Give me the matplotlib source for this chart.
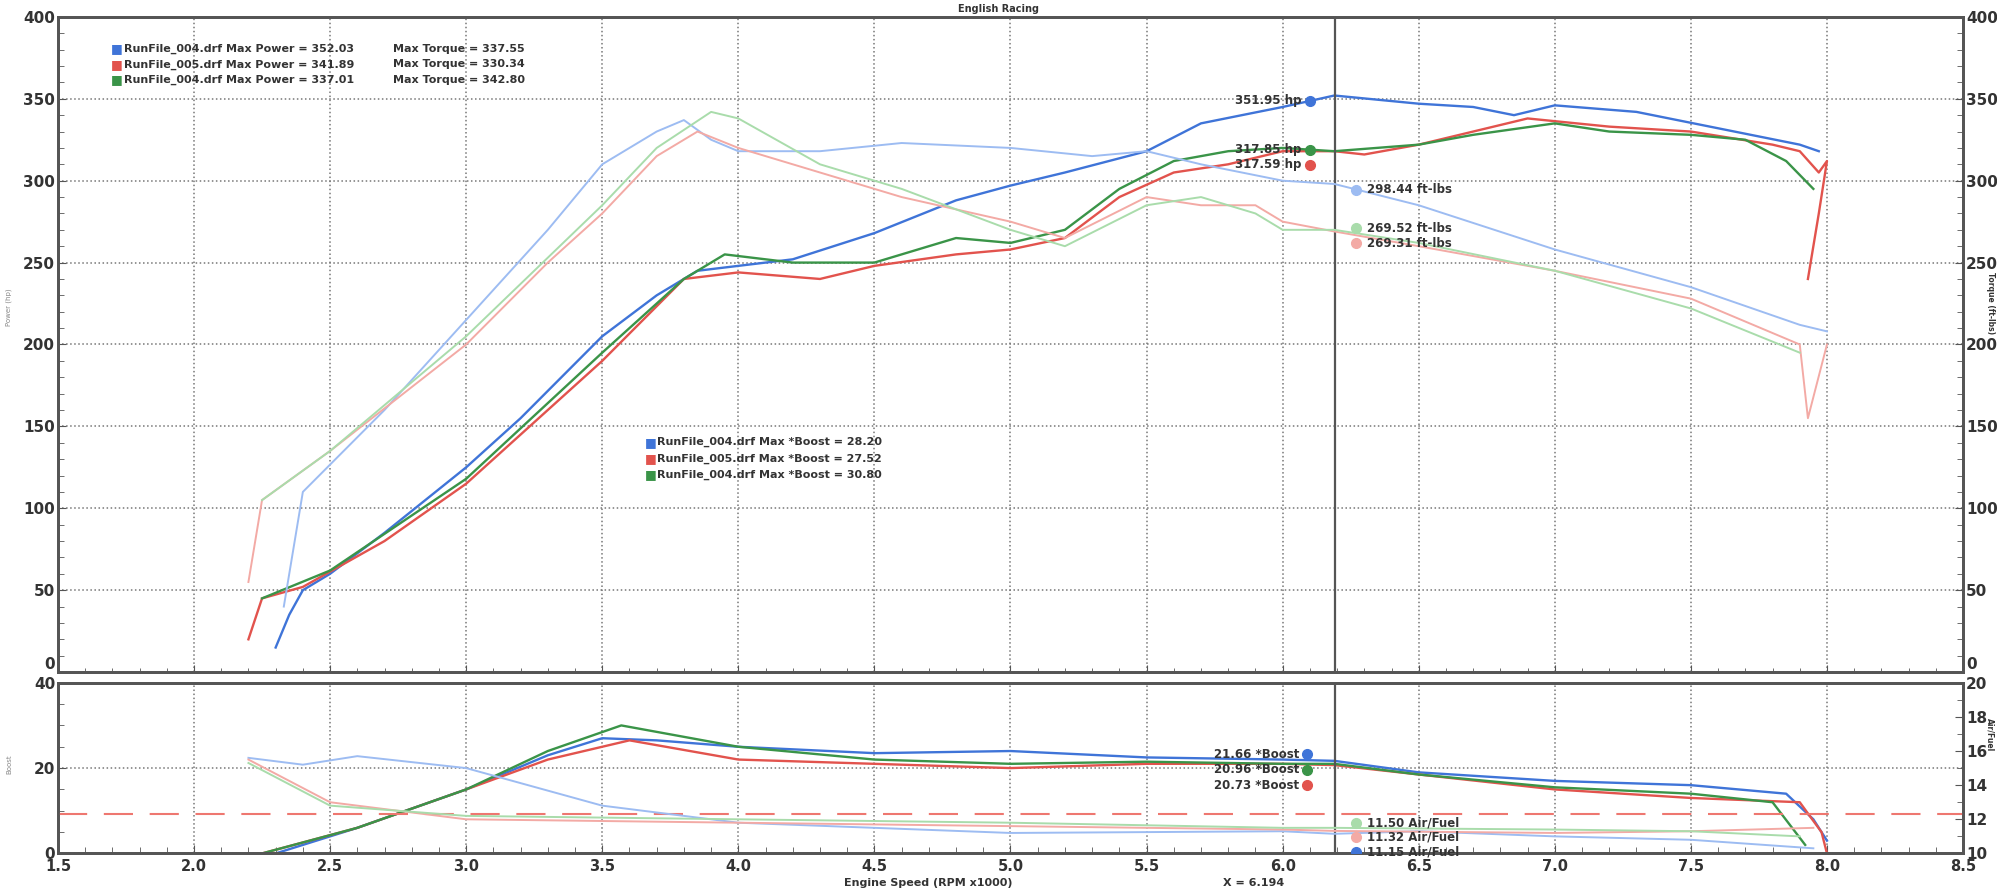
import numpy as np
import matplotlib
matplotlib.use('Agg')
import matplotlib.pyplot as plt
from matplotlib.ticker import MultipleLocator

# ---- data ----
rpm_pwr_blue = [2.3, 2.35, 2.4, 2.5, 2.7, 3.0, 3.2, 3.5, 3.7, 3.85, 4.0, 4.2, 4.5, 4.8, 5.0, 5.2, 5.5, 5.7, 6.0, 6.19, 6.5, 6.7, 6.85, 7.0, 7.3, 7.6, 7.9, 7.97]
pwr_blue = [15, 35, 50, 60, 85, 125, 155, 205, 230, 245, 248, 252, 268, 288, 297, 305, 318, 335, 345, 352, 347, 345, 340, 346, 342, 332, 322, 318]

rpm_pwr_red = [2.2, 2.25, 2.4, 2.7, 3.0, 3.3, 3.5, 3.8, 4.0, 4.3, 4.5, 4.8, 5.0, 5.2, 5.4, 5.6, 5.8, 6.0, 6.19, 6.3, 6.5, 6.7, 6.9, 7.2, 7.5, 7.8, 7.9, 7.97, 8.0, 7.97, 7.93]
pwr_red = [20, 45, 52, 80, 115, 160, 190, 240, 244, 240, 248, 255, 258, 265, 290, 305, 310, 318, 318, 316, 322, 330, 338, 333, 330, 322, 318, 305, 312, 280, 240]

rpm_pwr_green = [2.25, 2.5, 3.0, 3.5, 3.8, 3.95, 4.2, 4.5, 4.8, 5.0, 5.2, 5.4, 5.6, 5.8, 6.0, 6.19, 6.5, 6.7, 7.0, 7.2, 7.5, 7.7, 7.85, 7.95]
pwr_green = [45, 62, 118, 195, 240, 255, 250, 250, 265, 262, 270, 295, 312, 318, 320, 318, 322, 328, 335, 330, 328, 325, 312, 295]

rpm_trq_blue = [2.33, 2.4, 2.7, 3.0, 3.3, 3.5, 3.7, 3.8, 3.9, 4.0, 4.3, 4.6, 5.0, 5.3, 5.5, 5.7, 6.0, 6.19, 6.5, 7.0, 7.5, 7.9, 8.0]
trq_blue = [40, 110, 160, 215, 270, 310, 330, 337, 325, 318, 318, 323, 320, 315, 318, 310, 300, 298, 285, 258, 235, 212, 208]

rpm_trq_red = [2.2, 2.25, 2.5, 3.0, 3.3, 3.5, 3.7, 3.85, 4.0, 4.3, 4.6, 5.0, 5.2, 5.5, 5.7, 5.9, 6.0, 6.19, 6.5, 7.0, 7.5, 7.9, 7.93, 8.0]
trq_red = [55, 105, 135, 200, 250, 280, 315, 330, 320, 305, 290, 275, 265, 290, 285, 285, 275, 269, 260, 245, 228, 200, 155, 200]

rpm_trq_green = [2.25, 2.5, 3.0, 3.5, 3.7, 3.9, 4.0, 4.3, 4.6, 5.0, 5.2, 5.5, 5.7, 5.9, 6.0, 6.19, 6.5, 7.0, 7.5, 7.9]
trq_green = [105, 135, 205, 285, 320, 342, 338, 310, 295, 270, 260, 285, 290, 280, 270, 270, 262, 245, 222, 195]

rpm_boost_blue = [2.3, 2.6, 3.0, 3.3, 3.5, 3.7, 4.0, 4.5, 5.0, 5.5, 6.0, 6.19, 6.5, 7.0, 7.5, 7.85, 7.95, 8.0]
boost_blue = [0, 6, 15, 23, 27, 26.5, 25, 23.5, 24, 22.5, 22, 21.7, 19, 17, 16, 14, 8, 3]
rpm_boost_red = [2.25, 2.6, 3.0, 3.3, 3.6, 4.0, 4.5, 5.0, 5.5, 6.0, 6.19, 6.5, 7.0, 7.5, 7.9, 7.98, 8.0]
boost_red = [0, 6, 15, 22, 26.5, 22, 21, 20, 21, 21, 20.7, 18.5, 15, 13, 12, 5, 0]
rpm_boost_green = [2.25, 2.6, 3.0, 3.3, 3.57, 4.0, 4.5, 5.0, 5.5, 6.0, 6.19, 6.5, 7.0, 7.5, 7.8, 7.92]
boost_green = [0, 6, 15, 24, 30, 25, 22, 21, 21.5, 21, 21, 18.5, 15.5, 14, 12, 2]

rpm_afr_blue = [2.2, 2.4, 2.6, 3.0, 3.5, 4.0, 5.0, 6.0, 6.19, 6.5, 7.0, 7.5, 7.95]
afr_blue = [15.6, 15.2, 15.7, 15.0, 12.8, 11.8, 11.2, 11.3, 11.15, 11.3, 11.0, 10.8, 10.3]
rpm_afr_red = [2.2, 2.5, 3.0, 4.0, 5.0, 6.0, 6.19, 7.0, 7.5, 7.95]
afr_red = [15.5, 13.0, 12.0, 11.8, 11.6, 11.4, 11.32, 11.2, 11.3, 11.5]
rpm_afr_green = [2.2, 2.5, 3.0, 4.0, 5.0, 6.0, 6.19, 7.0, 7.5, 7.9]
afr_green = [15.3, 12.8, 12.2, 12.0, 11.8, 11.5, 11.5, 11.4, 11.3, 11.0]

afr_target = 12.3
cursor_rpm = 6.194

run_names = ['RunFile_004.drf', 'RunFile_005.drf', 'RunFile_004.drf']
max_power = [352.03, 341.89, 337.01]
max_torque = [337.55, 330.34, 342.80]
max_boost = [28.20, 27.52, 30.80]
cur_power = [351.95, 317.85, 317.59]   # listed top to bottom as on the sheet
cur_torque = [298.44, 269.52, 269.31]
cur_boost = [21.66, 20.96, 20.73]
cur_afr = [11.50, 11.32, 11.15]

dark = ['#3f74d8', '#e2534d', '#3a9448']
light = ['#9dbcf2', '#f3aaa5', '#a9dcab']
txt = '#333333'
frame = '#555555'

# ---- figure ----
fig = plt.figure(figsize=(19.97, 8.89), dpi=100)
ax = fig.add_axes([0.029, 0.244, 0.954, 0.737])
axb = fig.add_axes([0.029, 0.040, 0.954, 0.192])
ax2 = ax.twinx()
axb2 = axb.twinx()

for a in (ax, axb, ax2, axb2):
    a.set_xlim(1.5, 8.5)
    for s in a.spines.values():
        s.set_color(frame)
        s.set_linewidth(2)

ax.set_ylim(0, 400)
ax2.set_ylim(0, 400)
axb.set_ylim(0, 40)
axb2.set_ylim(10, 20)

for a in (ax, axb):
    a.xaxis.set_major_locator(MultipleLocator(0.5))
    a.xaxis.set_minor_locator(MultipleLocator(0.1))
    a.grid(True, which='major', color='#777777', linestyle=':', linewidth=1.1)
ax.yaxis.set_major_locator(MultipleLocator(50))
ax.yaxis.set_minor_locator(MultipleLocator(10))
ax2.yaxis.set_major_locator(MultipleLocator(50))
ax2.yaxis.set_minor_locator(MultipleLocator(10))
axb.yaxis.set_major_locator(MultipleLocator(20))
axb.yaxis.set_minor_locator(MultipleLocator(5))
axb2.yaxis.set_major_locator(MultipleLocator(2))
axb2.yaxis.set_minor_locator(MultipleLocator(1))

ax.tick_params(axis='x', labelbottom=False, direction='in', length=5, color=frame)
ax.tick_params(axis='x', which='minor', direction='in', length=3, color=frame)
axb.tick_params(axis='x', direction='in', length=6, color=frame, labelsize=10.5, labelcolor=txt, pad=4)
axb.tick_params(axis='x', which='minor', direction='in', length=4, color=frame)
for a in (ax, ax2, axb, axb2):
    a.tick_params(axis='y', which='major', direction='in', length=6, color=frame, labelsize=11, labelcolor=txt, pad=2)
    a.tick_params(axis='y', which='minor', direction='in', length=4, color=frame)
ax.set_yticks(np.arange(0, 401, 50))
ax2.set_yticks(np.arange(0, 401, 50))
axb.set_xticks(np.arange(1.5, 8.51, 0.5))
axb.set_xticklabels([f'{v:.1f}' for v in np.arange(1.5, 8.51, 0.5)])
for lab in ax.get_yticklabels() + ax2.get_yticklabels() + axb.get_yticklabels() + axb2.get_yticklabels() + axb.get_xticklabels():
    lab.set_fontweight('bold')
# the "0" of the upper panel sits a little higher than the "40"/"20" below it
ax.get_yticklabels()[0].set_verticalalignment('bottom')
ax2.get_yticklabels()[0].set_verticalalignment('bottom')

# torque (lighter) then power
trq_sets = [(rpm_trq_blue, trq_blue), (rpm_trq_red, trq_red), (rpm_trq_green, trq_green)]
pwr_sets = [(rpm_pwr_blue, pwr_blue), (rpm_pwr_red, pwr_red), (rpm_pwr_green, pwr_green)]
for i, (x, y) in enumerate(trq_sets):
    ax2.plot(x, y, color=light[i], lw=1.4)
for i, (x, y) in enumerate(pwr_sets):
    ax.plot(x, y, color=dark[i], lw=1.7)

boost_sets = [(rpm_boost_blue, boost_blue), (rpm_boost_red, boost_red), (rpm_boost_green, boost_green)]
afr_sets = [(rpm_afr_blue, afr_blue), (rpm_afr_red, afr_red), (rpm_afr_green, afr_green)]
axb2.axhline(afr_target, color='#ee7770', lw=1.5, dashes=(14, 8))
for i, (x, y) in enumerate(afr_sets):
    axb2.plot(x, y, color=light[i], lw=1.4)
for i, (x, y) in enumerate(boost_sets):
    axb.plot(x, y, color=dark[i], lw=1.7)

for a in (ax, axb):
    a.axvline(cursor_rpm, color='#555555', lw=1.6, zorder=5)

# cursor readouts (stacked like the sheet)
bold = dict(fontsize=8.5, fontweight='bold', color=txt)
p_cols = [dark[0], dark[2], dark[1]]
p_offs = [-3, 1, -8]
for v, c, dy in zip(cur_power, p_cols, p_offs):
    ax.plot([6.10], [v + dy], 'o', color=c, ms=7, zorder=6)
    ax.text(6.07, v + dy, f'{v:.2f} hp', ha='right', va='center', **bold)
t_cols = [light[0], light[2], light[1]]
t_offs = [-4, 1.5, -7.5]
for v, c, dy in zip(cur_torque, t_cols, t_offs):
    ax2.plot([6.27], [v + dy], 'o', color=c, ms=7, zorder=6)
    ax2.text(6.31, v + dy, f'{v:.2f} ft-lbs', ha='left', va='center', **bold)
b_cols = [dark[0], dark[2], dark[1]]
b_offs = [1.6, -1.3, -4.7]
for v, c, dy in zip(cur_boost, b_cols, b_offs):
    axb.plot([6.09], [v + dy], 'o', color=c, ms=7, zorder=6)
    axb.text(6.06, v + dy, f'{v:.2f} *Boost', ha='right', va='center', **bold)
a_cols = [light[2], light[1], dark[0]]
a_offs = [0.3, -0.37, -1.05]
for v, c, dy in zip(cur_afr, a_cols, a_offs):
    axb2.plot([6.27], [v + dy], 'o', color=c, ms=7, zorder=6)
    axb2.text(6.31, v + dy, f'{v:.2f} Air/Fuel', ha='left', va='center', **bold)

# legend blocks
leg = dict(fontsize=8, fontweight='bold', color=txt, transform=ax.transAxes, va='center')
for i in range(3):
    y = 0.951 - i * 0.0235
    ax.text(0.028, y, '\u25a0', color=dark[i], fontsize=9, transform=ax.transAxes, va='center')
    ax.text(0.0345, y, f'{run_names[i]} Max Power = {max_power[i]:.2f}', **leg)
    ax.text(0.176, y, f'Max Torque = {max_torque[i]:.2f}', **leg)
for i in range(3):
    y = 0.351 - i * 0.025
    ax.text(0.308, y, '\u25a0', color=dark[i], fontsize=9, transform=ax.transAxes, va='center')
    ax.text(0.3145, y, f'{run_names[i]} Max *Boost = {max_boost[i]:.2f}', **leg)

fig.text(0.5, 0.995, 'English Racing', ha='center', va='top', fontsize=7, fontweight='bold', color=txt)
fig.text(0.003, 0.655, 'Power (hp)', rotation=90, ha='left', va='center', fontsize=5, color='#888888')
fig.text(0.9965, 0.659, 'Torque (ft-lbs)', rotation=270, ha='center', va='center', fontsize=5.5, fontweight='bold', color=txt)
fig.text(0.003, 0.14, 'Boost', rotation=90, ha='left', va='center', fontsize=5, color='#888888')
fig.text(0.9965, 0.174, 'Air/Fuel', rotation=270, ha='center', va='center', fontsize=5.5, fontweight='bold', color=txt)
fig.text(0.465, 0.001, 'Engine Speed (RPM x1000)', ha='center', va='bottom', fontsize=8, fontweight='bold', color=txt)
fig.text(0.628, 0.001, f'X = {cursor_rpm:.3f}', ha='center', va='bottom', fontsize=8, fontweight='bold', color=txt)

fig.savefig('out.png', dpi=100)
